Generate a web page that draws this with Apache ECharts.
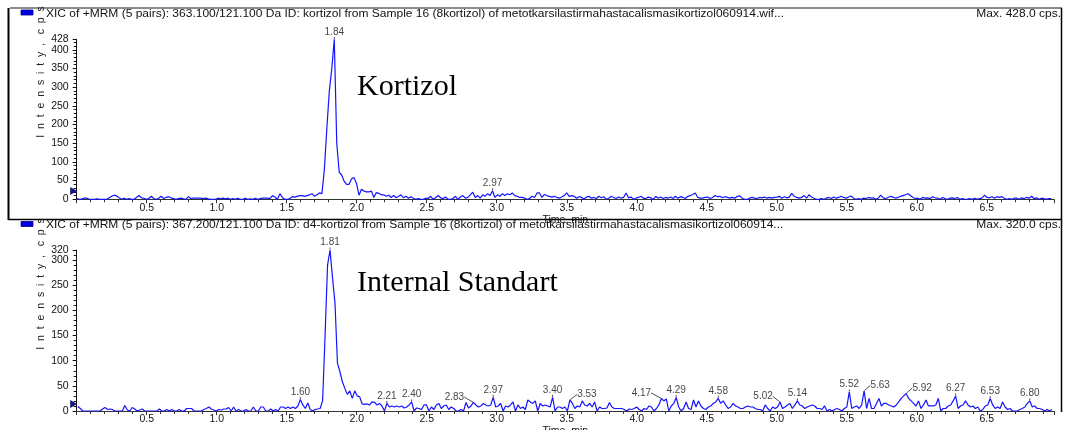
<!DOCTYPE html>
<html>
<head>
<meta charset="utf-8">
<title>XIC kortizol / d4-kortizol</title>
<script src="https://cdn.jsdelivr.net/npm/echarts@6/dist/echarts.min.js"></script>
<style>
  html, body { margin: 0; padding: 0; background: #ffffff; }
  #chart { width: 1066px; height: 430px; }
</style>
</head>
<body>
<div id="chart"></div>
<script>
// ---- Acquisition grid (minutes) ----
const SCAN_STEP = 0.01766;        // time between consecutive MRM cycles
const KORTIZOL_START = 0.003;     // first scan of the 363.1/121.1 trace
const STANDARD_START = 0.008;     // first scan of the 367.2/121.1 trace
const TIME_MAX = 6.98;

// ---- XIC 363.100/121.100 (kortizol), cps per scan ----
const kortizolIntensity = [
  2, 0, 1, 3, 3, 0, 0, 0, 1, 0, 0, 0, 0, 4, 8, 11, 9, 4, 0, 3,
  0, 2, 0, 0, 5, 10, 4, 3, 0, 2, 8, 2, 0, 3, 8, 2, 5, 7, 4, 2,
  0, 2, 3, 1, 0, 7, 2, 3, 3, 3, 3, 2, 3, 1, 0, 0, 0, 3, 1, 3,
  1, 3, 0, 2, 0, 3, 0, 0, 3, 0, 1, 0, 3, 0, 2, 3, 3, 3, 2, 10,
  6, 0, 15, 5, 0, 0, 2, 7, 6, 8, 10, 10, 8, 10, 12, 15, 8, 12, 17, 15,
  80, 190, 290, 350, 428, 150, 72, 65, 48, 40, 40, 55, 58, 42, 11, 27, 22, 20, 20, 22,
  5, 18, 16, 12, 12, 8, 11, 5, 10, 4, 8, 12, 4, 8, 3, 7, 3, 0, 2, 0,
  0, 3, 2, 8, 0, 4, 10, 4, 2, 6, 0, 0, 2, 8, 0, 6, 10, 3, 5, 12,
  19, 5, 10, 3, 12, 8, 15, 10, 23, 5, 12, 8, 15, 10, 15, 12, 17, 10, 8, 5,
  5, 3, 0, 2, 8, 5, 17, 17, 5, 13, 10, 8, 6, 8, 5, 3, 6, 10, 17, 8,
  10, 8, 3, 7, 5, 0, 6, 8, 3, 5, 2, 8, 4, 7, 0, 3, 8, 5, 2, 6,
  3, 5, 17, 4, 6, 0, 3, 5, 8, 3, 2, 6, 4, 0, 8, 3, 6, 2, 5, 3,
  6, 2, 8, 3, 7, 5, 2, 8, 10, 13, 17, 5, 3, 3, 5, 6, 2, 5, 10, 7,
  8, 4, 7, 5, 3, 5, 3, 8, 9, 3, 0, 0, 3, 5, 3, 2, 5, 4, 6, 3,
  5, 3, 5, 6, 8, 3, 7, 4, 6, 16, 8, 5, 3, 5, 10, 3, 12, 6, 3, 0,
  0, 2, 0, 3, 5, 2, 6, 3, 5, 8, 5, 3, 6, 9, 3, 0, 2, 0, 3, 2,
  5, 3, 4, 0, 3, 11, 4, 2, 5, 8, 6, 3, 5, 8, 10, 12, 15, 10, 5, 2,
  3, 0, 5, 3, 4, 2, 7, 4, 3, 0, 5, 2, 0, 3, 4, 2, 5, 0, 2, 0,
  0, 2, 0, 3, 0, 2, 4, 11, 5, 4, 7, 3, 7, 5, 7, 3, 0, 2, 0, 3,
  3, 0, 4, 2, 5, 3, 8, 2, 4, 0, 3, 2, 0, 2, 2
];

// ---- XIC 367.200/121.100 (d4-kortizol, internal standard), cps per scan ----
const standardIntensity = [
  9, 5, 0, 0, 0, 0, 0, 0, 0, 0, 4, 7, 3, 4, 3, 0, 0, 0, 0, 11,
  2, 0, 7, 4, 0, 2, 4, 0, 0, 0, 0, 0, 0, 4, 0, 0, 3, 0, 3, 0,
  0, 3, 0, 0, 5, 5, 5, 0, 0, 0, 0, 3, 5, 8, 4, 2, 0, 3, 2, 4,
  4, 7, 0, 8, 0, 3, 0, 0, 3, 0, 0, 8, 0, 0, 8, 8, 0, 0, 4, 0,
  3, 0, 8, 8, 5, 8, 5, 8, 5, 10, 23, 12, 5, 16, 3, 0, 3, 4, 5, 20,
  150, 290, 320, 265, 215, 95, 78, 58, 45, 33, 40, 25, 40, 30, 28, 14, 13, 14, 12, 18,
  17, 12, 15, 10, 0, 15, 8, 10, 8, 10, 8, 10, 6, 8, 12, 18, 0, 6, 5, 3,
  12, 12, 0, 8, 3, 12, 15, 5, 10, 12, 3, 8, 5, 0, 0, 3, 0, 17, 6, 10,
  17, 12, 8, 10, 15, 12, 10, 12, 27, 8, 10, 15, 0, 10, 8, 12, 18, 0, 12, 5,
  8, 3, 22, 18, 15, 20, 0, 15, 10, 12, 10, 8, 27, 0, 8, 8, 5, 8, 0, 22,
  15, 5, 10, 8, 20, 12, 10, 15, 8, 18, 0, 8, 5, 5, 6, 17, 8, 5, 5, 5,
  5, 3, 0, 4, 3, 5, 8, 3, 0, 5, 3, 10, 8, 0, 5, 12, 25, 20, 24, 0,
  10, 15, 27, 8, 0, 5, 18, 5, 3, 22, 8, 20, 10, 5, 3, 8, 10, 15, 18, 25,
  15, 20, 12, 5, 8, 15, 10, 8, 5, 5, 8, 10, 8, 8, 5, 3, 3, 0, 12, 5,
  0, 8, 5, 8, 18, 5, 8, 12, 15, 5, 12, 20, 12, 10, 5, 8, 10, 12, 10, 5,
  5, 3, 10, 0, 3, 0, 3, 5, 3, 0, 5, 8, 38, 5, 8, 10, 5, 12, 40, 5,
  25, 5, 5, 15, 25, 10, 15, 15, 12, 10, 8, 12, 18, 25, 30, 35, 25, 20, 15, 10,
  20, 5, 12, 22, 10, 10, 10, 12, 25, 0, 5, 5, 10, 12, 20, 30, 5, 10, 12, 20,
  12, 8, 10, 5, 8, 0, 3, 10, 12, 25, 12, 5, 8, 5, 18, 8, 3, 5, 0, 0,
  0, 3, 5, 8, 15, 20, 8, 10, 5, 5, 3, 0, 3, 0, 3
];

// ---- Apex retention times reported by peak finder (min) ----
const kortizolPeakTimes = [1.84, 2.97];
const standardPeakTimes = [1.60, 1.81, 2.21, 2.40, 2.83, 2.97, 3.40, 3.53, 4.17,
  4.29, 4.58, 5.02, 5.14, 5.52, 5.63, 5.92, 6.27, 6.53, 6.80];

// ---- Baseline threshold markers (cps) ----
const kortizolThreshold = 22;
const standardThreshold = 14;

// ---- Axis ranges and tick labels ----
const kortizolMax = 428;
const standardMax = 320;
const kortizolTickLabels = [0, 50, 100, 150, 200, 250, 300, 350, 400];
const standardTickLabels = [0, 50, 100, 150, 200, 250, 300];
const kortizolTopLabel = [428];
const standardTopLabel = [320];
const intensityTickStep = 50;
const timeTickStep = 0.5;

// ---- Texts ----
const kortizolHeader = 'XIC of +MRM (5 pairs): 363.100/121.100 Da ID: kortizol from Sample 16 (8kortizol) of metotkarsilastirmahastacalismasikortizol060914.wif...';
const standardHeader = 'XIC of +MRM (5 pairs): 367.200/121.100 Da ID: d4-kortizol from Sample 16 (8kortizol) of metotkarsilastirmahastacalismasikortizol060914...';
const kortizolMaxText = 'Max. 428.0 cps.';
const standardMaxText = 'Max. 320.0 cps.';
const yTitle = 'I  n  t  e  n  s  i  t  y  ,   c  p  s';
const xTitle = 'Time, min';
const kortizolName = 'Kortizol';
const standardName = 'Internal Standart';

// Leader-line shift for crowded apex labels (px, horizontal)
const LABEL_SHIFT = { '2.83': -19, '3.53': 17, '4.17': -20, '5.02': -17, '5.63': 16, '5.92': 16 };

const FONT = '"Liberation Sans", Arial, Helvetica, sans-serif';
const SERIF = '"Liberation Serif", "Times New Roman", serif';
const TRACE = '#1414ff';
const INK = '#111111';

function toScans(values, start) {
  return values.map((v, i) => [start + i * SCAN_STEP, v]);
}

function apexPoints(values, start, times) {
  return times.map(t => {
    const i = Math.round((t - start) / SCAN_STEP);
    return { name: t.toFixed(2), value: [start + i * SCAN_STEP, values[i]] };
  });
}

const GRID_LEFT = 76.7;
const GRID_WIDTH = 977.3;

function xAxisFor(gridIndex) {
  return {
    type: 'value', gridIndex, min: 0, max: TIME_MAX, interval: timeTickStep,
    axisLine: { show: true, lineStyle: { color: '#333', width: 1 } },
    axisTick: { show: true, length: 4, lineStyle: { color: '#333' } },
    minorTick: { show: true, splitNumber: 5, length: 3, lineStyle: { color: '#333' } },
    splitLine: { show: false },
    axisLabel: {
      showMinLabel: false, showMaxLabel: false, margin: 3,
      fontSize: 10.5, fontFamily: FONT, color: INK,
      formatter: v => v.toFixed(1)
    },
    name: xTitle, nameLocation: 'middle', nameGap: 11,
    nameTextStyle: { fontSize: 10.5, fontFamily: FONT, color: INK }
  };
}

function yAxisFor(gridIndex, max, labels) {
  return {
    type: 'value', gridIndex, min: 0, max, interval: intensityTickStep,
    axisLine: { show: true, lineStyle: { color: '#111', width: 1 } },
    axisTick: { show: true, length: 4, lineStyle: { color: '#111' } },
    minorTick: { show: true, splitNumber: 5, length: 3, lineStyle: { color: '#111' } },
    splitLine: { show: false },
    axisLabel: {
      customValues: labels, margin: 8, fontSize: 10.5, fontFamily: FONT, color: INK
    }
  };
}

// Companion axis that only carries the full-scale (Max.) label at the top
function yTopAxisFor(gridIndex, max, labels) {
  return {
    type: 'value', gridIndex, min: 0, max, position: 'left',
    axisLine: { show: false }, axisTick: { show: false }, minorTick: { show: false },
    splitLine: { show: false },
    axisLabel: { customValues: labels, margin: 8, fontSize: 10.5, fontFamily: FONT, color: INK }
  };
}

function traceSeries(axisIndex, values, start, threshold) {
  return {
    type: 'line', xAxisIndex: axisIndex, yAxisIndex: axisIndex,
    data: toScans(values, start),
    showSymbol: false, symbol: 'none',
    lineStyle: { color: TRACE, width: 1.2 },
    animation: false, silent: true,
    markPoint: {
      symbol: 'triangle', symbolSize: [8, 7], symbolRotate: -90, symbolOffset: [-3, 0],
      itemStyle: { color: '#16167a' }, label: { show: false }, silent: true,
      data: [{ coord: [0, threshold] }]
    }
  };
}

function apexSeries(axisIndex, values, start, times) {
  const pts = apexPoints(values, start, times);
  return {
    type: 'scatter', xAxisIndex: axisIndex, yAxisIndex: axisIndex,
    data: pts, symbolSize: 1, itemStyle: { color: 'rgba(0,0,0,0)' },
    animation: false, silent: true,
    label: {
      show: true, position: 'top', distance: 2,
      formatter: p => p.name, fontSize: 10, fontFamily: FONT, color: INK
    },
    labelLine: { show: true, length2: 0, lineStyle: { color: '#222', width: 0.8 } },
    labelLayout: params => {
      const dx = LABEL_SHIFT[pts[params.dataIndex].name];
      return dx ? { dx: dx, dy: 2 } : {};
    }
  };
}

function headerText(text, y) {
  return { type: 'text', x: 46, y, scaleX: 1.2, silent: true,
    style: { text, fontSize: 10, fontFamily: FONT, fill: INK, textVerticalAlign: 'middle' } };
}
function maxText(text, y) {
  return { type: 'text', x: 1061, y, scaleX: 1.2, silent: true,
    style: { text, fontSize: 10, fontFamily: FONT, fill: INK, textAlign: 'right', textVerticalAlign: 'middle' } };
}
function line(x1, y1, x2, y2, color, w) {
  return { type: 'line', silent: true, shape: { x1, y1, x2, y2 }, style: { stroke: color, lineWidth: w } };
}

const chart = echarts.init(document.getElementById('chart'), null, { renderer: 'canvas' });

chart.setOption({
  backgroundColor: '#ffffff',
  animation: false,
  grid: [
    { left: GRID_LEFT, width: GRID_WIDTH, top: 39.3, height: 160, outerBoundsMode: 'none' },
    { left: GRID_LEFT, width: GRID_WIDTH, top: 250, height: 161, outerBoundsMode: 'none' }
  ],
  xAxis: [xAxisFor(0), xAxisFor(1)],
  yAxis: [
    yAxisFor(0, kortizolMax, kortizolTickLabels),
    yAxisFor(1, standardMax, standardTickLabels),
    yTopAxisFor(0, kortizolMax, kortizolTopLabel),
    yTopAxisFor(1, standardMax, standardTopLabel)
  ],
  series: [
    traceSeries(0, kortizolIntensity, KORTIZOL_START, kortizolThreshold),
    apexSeries(0, kortizolIntensity, KORTIZOL_START, kortizolPeakTimes),
    traceSeries(1, standardIntensity, STANDARD_START, standardThreshold),
    apexSeries(1, standardIntensity, STANDARD_START, standardPeakTimes)
  ],
  graphic: [
    // panel frames
    line(10, 8, 1062, 8, '#8c8c8c', 2),
    line(8.5, 8, 8.5, 220, '#000', 2),
    line(1061.5, 8, 1061.5, 412, '#000', 1.5),
    line(8, 219.5, 1062, 219.5, '#000', 1.5),
    // legend swatches
    { type: 'rect', silent: true, shape: { x: 21, y: 10, width: 12, height: 5 },
      style: { fill: '#0000e6', stroke: '#00008a', lineWidth: 0.8 } },
    { type: 'rect', silent: true, shape: { x: 21, y: 221.5, width: 12, height: 5 },
      style: { fill: '#0000e6', stroke: '#00008a', lineWidth: 0.8 } },
    headerText(kortizolHeader, 14),
    headerText(standardHeader, 225.5),
    maxText(kortizolMaxText, 14),
    maxText(standardMaxText, 225.5),
    // vertical axis titles
    { type: 'text', x: 41, y: 72, rotation: Math.PI / 2, silent: true,
      style: { text: yTitle, fontSize: 10.5, fontFamily: FONT, fill: '#222', textAlign: 'center', textVerticalAlign: 'middle' } },
    { type: 'text', x: 41, y: 284, rotation: Math.PI / 2, silent: true,
      style: { text: yTitle, fontSize: 10.5, fontFamily: FONT, fill: '#222', textAlign: 'center', textVerticalAlign: 'middle' } },
    // compound names
    { type: 'text', x: 357, y: 102, silent: true,
      style: { text: kortizolName, fontSize: 30, fontFamily: SERIF, fill: '#000', textVerticalAlign: 'bottom' } },
    { type: 'text', x: 357, y: 298, silent: true,
      style: { text: standardName, fontSize: 30, fontFamily: SERIF, fill: '#000', textVerticalAlign: 'bottom' } }
  ]
});
</script>
</body>
</html>
